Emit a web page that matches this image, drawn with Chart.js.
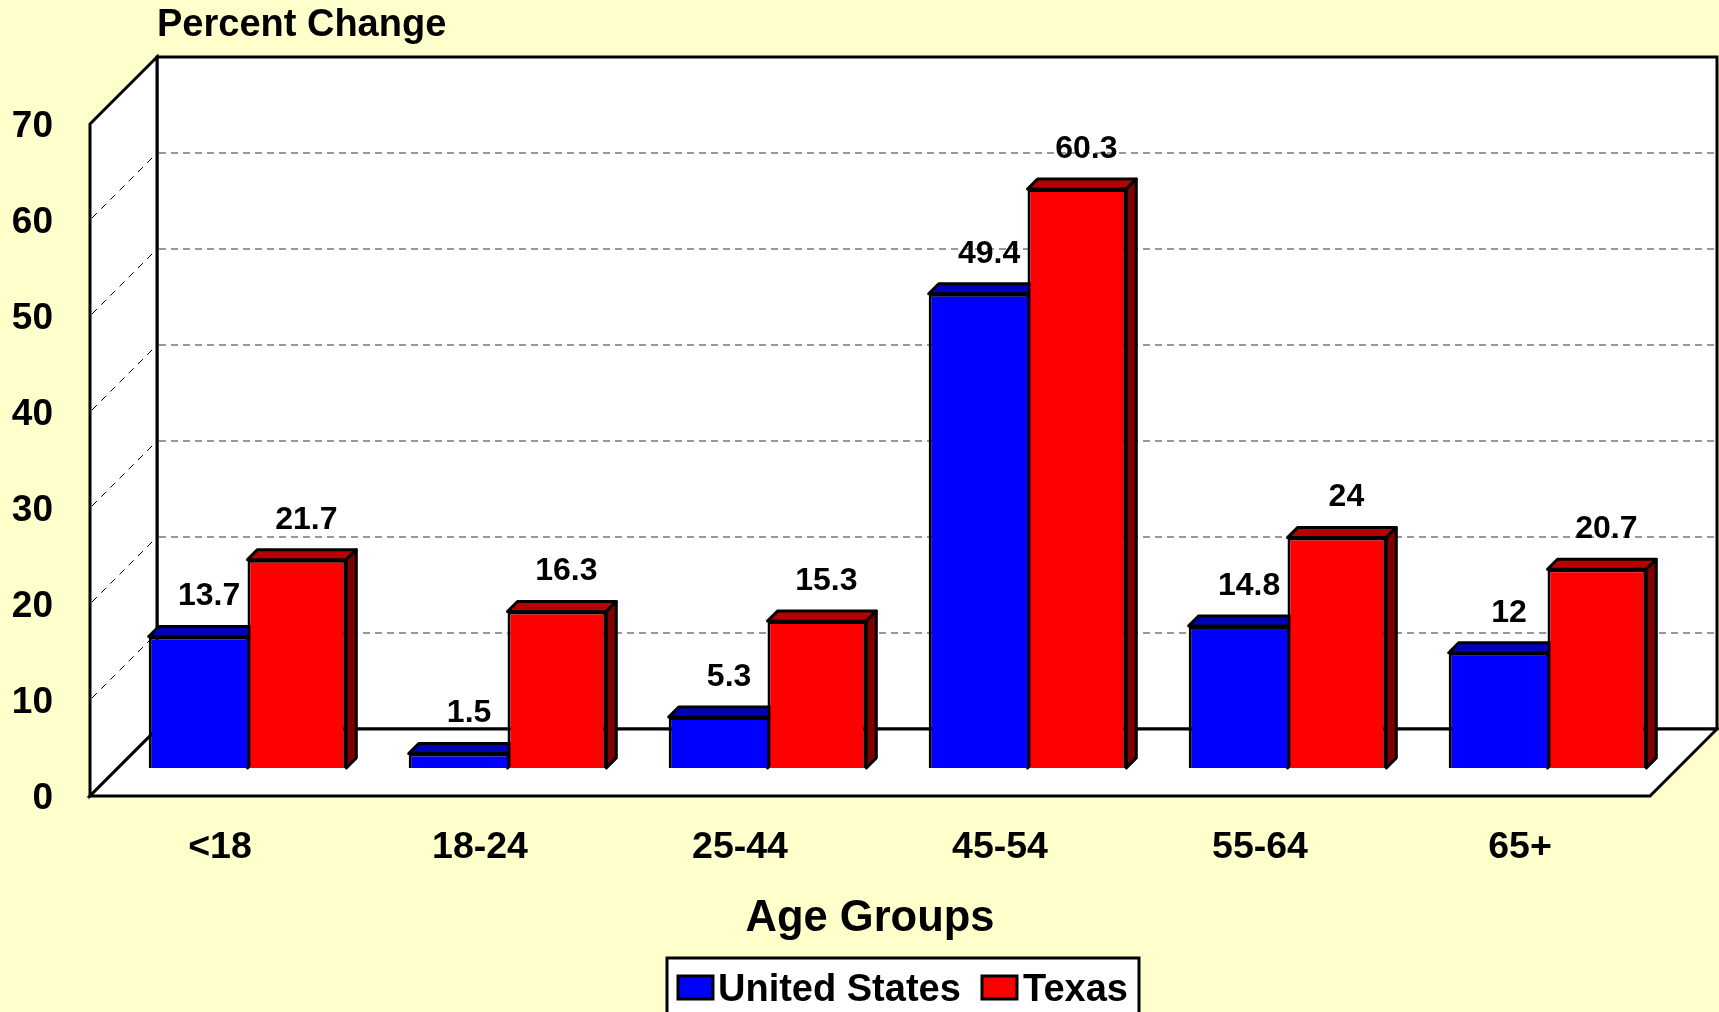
<!DOCTYPE html>
<html>
<head>
<meta charset="utf-8">
<title>Percent Change by Age Group</title>
<script src="https://cdn.jsdelivr.net/npm/chart.js@4"></script>
<style>
  html, body { margin: 0; padding: 0; background: #FFFFCC; overflow: hidden; }
  canvas { display: block; }
</style>
</head>
<body>
<canvas id="main" width="1719" height="1012"></canvas>
<script>
const ageGroups = ["<18", "18-24", "25-44", "45-54", "55-64", "65+"];
const unitedStates = [13.7, 1.5, 5.3, 49.4, 14.8, 12];
const texas = [21.7, 16.3, 15.3, 60.3, 24, 20.7];

const fontName = "'Liberation Sans', Arial, sans-serif";
const wallDepth = 67;
const barShiftX = 27.5;
const barShiftY = 28;
const barDepth = 10;
const labelShiftX = [11, 9.5];
const topColors = ["#0000B8", "#B80000"];
const sideColors = ["#000080", "#800000"];

function poly(ctx, pts, fill) {
  ctx.beginPath();
  pts.forEach((p, i) => (i ? ctx.lineTo(p[0], p[1]) : ctx.moveTo(p[0], p[1])));
  ctx.closePath();
  if (fill) { ctx.fillStyle = fill; ctx.fill(); }
  ctx.stroke();
}

// walls, floor and dashed gridlines
function drawWalls(chart) {
  const ctx = chart.ctx;
  const { left, right, top, bottom } = chart.chartArea;
  const d = wallDepth;
  ctx.save();
  ctx.strokeStyle = "#000";
  ctx.lineJoin = "miter";
  ctx.lineWidth = 3;
  poly(ctx, [[left + d, top - d], [right + d, top - d], [right + d, bottom - d], [left + d, bottom - d]], "#fff");
  poly(ctx, [[left, top], [left + d, top - d], [left + d, bottom - d], [left, bottom]], "#fff");
  poly(ctx, [[left, bottom], [left + d, bottom - d], [right + d, bottom - d], [right, bottom]], "#fff");

  chart.scales.y.ticks.forEach(t => {
    if (t.value === 0 || t.value === 70) return;
    const y = chart.scales.y.getPixelForValue(t.value);
    ctx.lineWidth = 1;
    ctx.strokeStyle = "#000";
    ctx.setLineDash([7, 6]);
    ctx.beginPath();
    ctx.moveTo(left + 2, y - 2);
    ctx.lineTo(left + d, y - d);
    ctx.stroke();
    ctx.lineWidth = 1.5;
    ctx.strokeStyle = "#777";
    ctx.setLineDash([7, 5]);
    ctx.beginPath();
    ctx.moveTo(left + d + 2, y - d);
    ctx.lineTo(right + d - 1, y - d);
    ctx.stroke();
  });
  ctx.restore();
}

// top and side faces behind the front of each bar
function drawBarFaces(chart) {
  const ctx = chart.ctx;
  const d = barDepth;
  ctx.save();
  ctx.strokeStyle = "#000";
  ctx.lineWidth = 3;
  ctx.lineJoin = "round";
  chart.data.datasets.forEach((ds, i) => {
    chart.getDatasetMeta(i).data.forEach(bar => {
      const l = bar.x - bar.width / 2, r = bar.x + bar.width / 2;
      poly(ctx, [[l, bar.y], [l + d, bar.y - d], [r + d, bar.y - d], [r, bar.y]], topColors[i]);
      poly(ctx, [[r, bar.y], [r + d, bar.y - d], [r + d, bar.base - d], [r, bar.base]], sideColors[i]);
    });
  });
  ctx.restore();
}

function drawValueLabels(chart) {
  const ctx = chart.ctx;
  ctx.save();
  ctx.fillStyle = "#000";
  ctx.font = "bold 32px " + fontName;
  ctx.textAlign = "center";
  ctx.textBaseline = "middle";
  chart.data.datasets.forEach((ds, i) => {
    chart.getDatasetMeta(i).data.forEach((bar, j) => {
      ctx.fillText(String(ds.data[j]), bar.x + barShiftX + labelShiftX[i], bar.y - barShiftY - 40);
    });
  });
  ctx.restore();
}

function drawLegendBox(chart) {
  const ctx = chart.ctx;
  const boxes = [678, 982];
  const texts = [718, 1023];
  ctx.save();
  ctx.strokeStyle = "#000";
  ctx.lineWidth = 3;
  ctx.fillStyle = "#fff";
  ctx.fillRect(667, 958, 472, 70);
  ctx.strokeRect(667, 958, 472, 70);
  ctx.font = "bold 38px " + fontName;
  ctx.textBaseline = "middle";
  chart.data.datasets.forEach((ds, i) => {
    ctx.fillStyle = ds.backgroundColor;
    ctx.fillRect(boxes[i], 976, 35, 23);
    ctx.lineWidth = 3;
    ctx.strokeRect(boxes[i], 976, 35, 23);
    ctx.fillStyle = "#000";
    ctx.fillText(ds.label, texts[i], 991);
  });
  ctx.restore();
}

const chart3d = {
  id: "chart3d",
  beforeDatasetsDraw(chart) {
    drawWalls(chart);
    chart.ctx.save();
    chart.ctx.translate(barShiftX, -barShiftY);
    drawBarFaces(chart);
  },
  afterDatasetsDraw(chart) {
    chart.ctx.restore();
    drawValueLabels(chart);
  },
  afterDraw(chart) {
    const ctx = chart.ctx;
    ctx.save();
    ctx.fillStyle = "#000";
    ctx.font = "bold 38px " + fontName;
    ctx.textBaseline = "middle";
    ctx.fillText("Percent Change", 157, 26);
    ctx.restore();
    drawLegendBox(chart);
  }
};

const ctx = document.getElementById("main").getContext("2d");
const myChart = new Chart(ctx, {
  type: "bar",
  data: {
    labels: ageGroups,
    datasets: [
      { label: "United States", data: unitedStates, backgroundColor: "#0000FF", borderColor: "#000",
        borderWidth: { top: 3, left: 3, bottom: 3, right: 0 } },
      { label: "Texas", data: texas, backgroundColor: "#FF0000", borderColor: "#000",
        borderWidth: 3 },
    ],
  },
  options: {
    responsive: false,
    animation: false,
    clip: false,
    categoryPercentage: 0.76,
    barPercentage: 1,
    layout: { padding: { top: 124, right: 69, left: 0, bottom: 0 } },
    plugins: { legend: { display: false }, title: { display: false }, tooltip: { enabled: false } },
    scales: {
      x: {
        grid: { display: false, drawTicks: false },
        border: { display: false },
        ticks: { color: "#000", font: { family: fontName, size: 37.5, weight: "bold" }, padding: 29, maxRotation: 0 },
        title: { display: true, text: "Age Groups", color: "#000",
          font: { family: fontName, size: 43.5, weight: "bold" }, padding: { top: 0, bottom: 67 } },
        afterFit(scale) { scale.height = 216; },
      },
      y: {
        min: 0,
        max: 70,
        grid: { display: false, drawTicks: false },
        border: { display: false },
        ticks: { stepSize: 10, color: "#000", font: { family: fontName, size: 37, weight: "bold" }, padding: 37, labelOffset: 3 },
        afterFit(scale) { scale.width = 90; },
      },
    },
  },
  plugins: [chart3d],
});
</script>
</body>
</html>
